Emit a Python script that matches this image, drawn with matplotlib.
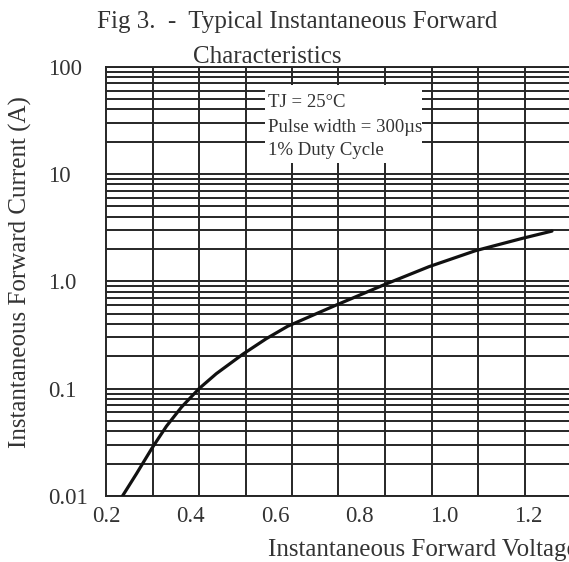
import numpy as np
import matplotlib
matplotlib.use("Agg")
import matplotlib.pyplot as plt
from matplotlib.ticker import LogLocator, NullFormatter
from matplotlib.patches import Rectangle

plt.rcParams['font.family'] = ['Liberation Serif', 'DejaVu Serif']

# curve (Fig 3)
volts = [0.239, 0.272, 0.308, 0.343, 0.379, 0.42, 0.461, 0.524, 0.579, 0.63,
         0.69, 0.744, 0.858, 0.964, 1.074, 1.184, 1.255]
amps = [0.01, 0.0161, 0.0276, 0.0447, 0.0676, 0.1, 0.138, 0.21, 0.292, 0.382,
        0.485, 0.60, 0.93, 1.37, 1.93, 2.51, 2.94]

x_ticks = [0.2, 0.4, 0.6, 0.8, 1.0, 1.2]
x_labels = ['0.2', '0.4', '0.6', '0.8', '1.0', '1.2']
y_ticks = [0.01, 0.1, 1, 10, 100]
y_labels = ['0.01', '0.1', '1.0', '10', '100']
note_lines = ['TJ = 25°C', 'Pulse width = 300µs', '1% Duty Cycle']

ink = '#262626'
W, H = 569, 562
fig = plt.figure(figsize=(W / 100, H / 100), dpi=100)

ax = fig.add_axes([106 / W, 1 - 496 / H, 465 / W, 429.3 / H])  # llx, lly, w, h
ax.set_yscale('log')
ax.set_xlim(0.2, 1.3)
ax.set_ylim(0.01, 100)

# grid: log minors on y, 10 even divisions on x (not aligned with the labels)
ax.yaxis.set_minor_locator(LogLocator(base=10, subs=range(2, 10)))
ax.yaxis.set_minor_formatter(NullFormatter())
ax.set_xticks(np.linspace(0.2, 1.3, 11), minor=True)
ax.grid(which='both', axis='y', color=ink, lw=1.4)
ax.grid(which='minor', axis='x', color=ink, lw=1.4)

ax.set_xticks(x_ticks, labels=x_labels)
ax.set_yticks(y_ticks, labels=y_labels, ha='left')
ax.tick_params(which='both', length=0, labelsize=16.5, labelcolor='#333333')
ax.tick_params(axis='y', pad=42)
ax.tick_params(axis='x', pad=7)

for s in ['left', 'bottom', 'top']:
    ax.spines[s].set_color(ink)
    ax.spines[s].set_linewidth(1.4)
ax.spines['right'].set_visible(False)

# white note box over the grid
ax.add_patch(Rectangle((0.575, 12.7), 0.948 - 0.575, 67.6 - 12.7,
                       facecolor='white', edgecolor='none', zorder=2))
for txt, yv in zip(note_lines, [46.5, 27.2, 16.5]):
    ax.text(0.584, yv, txt, fontsize=13.5, color='#333333', va='center', zorder=3)

ax.plot(volts, amps, color='#111111', lw=2.3, zorder=4,
        solid_capstyle='round', solid_joinstyle='round')

fig.text(297 / W, 1 - 22 / H, 'Fig 3.  -  Typical Instantaneous Forward',
         ha='center', va='center', fontsize=18, color='#333333')
fig.text(267 / W, 1 - 57 / H, 'Characteristics',
         ha='center', va='center', fontsize=18, color='#333333')
fig.text(20 / W, 1 - 272 / H, 'Instantaneous Forward Current (A)', rotation=90,
         ha='center', va='center', fontsize=18, color='#333333')
fig.text(268 / W, 1 - 550 / H, 'Instantaneous Forward Voltage (V)',
         ha='left', va='center', fontsize=18, color='#333333')

fig.savefig('out.png', dpi=100)
